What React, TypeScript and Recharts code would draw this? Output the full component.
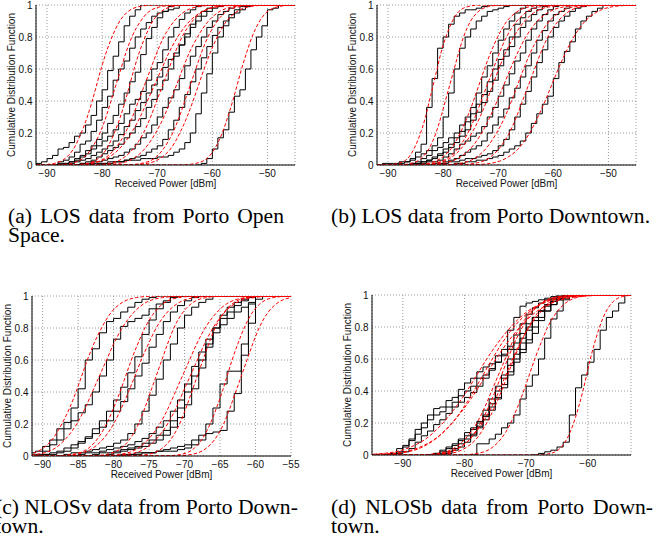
import { LineChart, Line, XAxis, YAxis, CartesianGrid } from 'recharts'

// cumulative levels at which each fitted curve's x position is listed
const fitLevels = [0.001, 0.01, 0.05, 0.1, 0.2, 0.3, 0.4, 0.5, 0.6, 0.7, 0.8, 0.9, 0.95, 0.99, 0.999]
const cdfTicks = [0, 0.2, 0.4, 0.6, 0.8, 1]

// (a) LOS, Porto open space — empirical CDF at 1 dB steps from each start value
const openStart = [-92, -88, -87, -88, -86, -84, -84, -80, -82, -62]
const openEcdf = [
  [0.01, 0.02, 0.04, 0.06, 0.1, 0.11, 0.14, 0.18, 0.2, 0.25, 0.31, 0.4, 0.47, 0.59, 0.68, 0.77, 0.87, 0.93, 0.97, 1],
  [0.02, 0.03, 0.05, 0.08, 0.13, 0.15, 0.21, 0.28, 0.36, 0.43, 0.53, 0.6, 0.65, 0.73, 0.8, 0.85, 0.89, 0.93, 0.95, 0.96, 0.97, 0.98, 1],
  [0.01, 0.02, 0.04, 0.06, 0.09, 0.12, 0.16, 0.2, 0.26, 0.31, 0.38, 0.45, 0.52, 0.58, 0.69, 0.79, 0.86, 0.92, 0.96, 0.99, 1],
  [0.01, 0.01, 0.02, 0.03, 0.05, 0.07, 0.1, 0.12, 0.15, 0.18, 0.22, 0.26, 0.32, 0.38, 0.41, 0.46, 0.53, 0.6, 0.64, 0.72, 0.8, 0.86, 0.91, 0.95, 0.97, 0.99, 1],
  [0.01, 0.02, 0.03, 0.04, 0.06, 0.08, 0.1, 0.12, 0.15, 0.19, 0.24, 0.28, 0.34, 0.39, 0.45, 0.5, 0.55, 0.61, 0.66, 0.7, 0.75, 0.8, 0.86, 0.9, 0.93, 0.96, 0.98, 0.99, 1],
  [0.01, 0.02, 0.03, 0.05, 0.07, 0.09, 0.11, 0.13, 0.17, 0.2, 0.24, 0.29, 0.36, 0.41, 0.47, 0.53, 0.6, 0.68, 0.75, 0.82, 0.88, 0.93, 0.96, 0.98, 1],
  [0.01, 0.01, 0.02, 0.02, 0.03, 0.04, 0.05, 0.06, 0.08, 0.1, 0.13, 0.17, 0.2, 0.25, 0.3, 0.36, 0.42, 0.47, 0.54, 0.62, 0.68, 0.74, 0.8, 0.86, 0.9, 0.94, 0.96, 0.98, 1],
  [0.01, 0.01, 0.02, 0.02, 0.03, 0.04, 0.05, 0.06, 0.08, 0.1, 0.12, 0.16, 0.22, 0.28, 0.36, 0.44, 0.52, 0.6, 0.67, 0.74, 0.81, 0.86, 0.9, 0.94, 0.97, 0.99, 1],
  [0.01, 0.01, 0.01, 0.02, 0.02, 0.02, 0.03, 0.03, 0.03, 0.04, 0.04, 0.04, 0.05, 0.05, 0.06, 0.08, 0.1, 0.14, 0.2, 0.32, 0.45, 0.57, 0.7, 0.8, 0.87, 0.92, 0.95, 0.97, 0.99, 1],
  [0.01, 0.04, 0.1, 0.17, 0.22, 0.33, 0.43, 0.47, 0.6, 0.72, 0.8, 0.87, 0.97, 0.98, 1],
]
const openFit = [
  [-91.2, -88.7, -86.4, -85.2, -83.8, -82.7, -81.8, -81.0, -80.2, -79.3, -78.2, -76.8, -75.6, -73.3, -70.8],
  [-88.3, -85.7, -83.2, -82.0, -80.4, -79.3, -78.4, -77.5, -76.6, -75.7, -74.6, -73.0, -71.8, -69.3, -66.7],
  [-85.2, -82.7, -80.4, -79.2, -77.8, -76.7, -75.8, -75.0, -74.2, -73.3, -72.2, -70.8, -69.6, -67.3, -64.8],
  [-85.3, -82.1, -79.2, -77.7, -75.8, -74.5, -73.4, -72.3, -71.2, -70.1, -68.8, -66.9, -65.4, -62.5, -59.3],
  [-86.0, -82.2, -78.7, -76.9, -74.7, -73.1, -71.8, -70.5, -69.2, -67.9, -66.3, -64.1, -62.3, -58.8, -55.0],
  [-82.0, -78.8, -75.9, -74.4, -72.5, -71.2, -70.1, -69.0, -67.9, -66.8, -65.5, -63.6, -62.1, -59.2, -56.0],
  [-80.4, -77.0, -73.9, -72.3, -70.3, -68.8, -67.6, -66.5, -65.4, -64.2, -62.7, -60.7, -59.1, -56.0, -52.6],
  [-75.7, -72.9, -70.2, -68.9, -67.2, -66.0, -65.0, -64.0, -63.0, -62.0, -60.8, -59.1, -57.8, -55.1, -52.3],
  [-74.9, -71.8, -69.1, -67.6, -65.9, -64.6, -63.5, -62.5, -61.5, -60.4, -59.1, -57.4, -55.9, -53.2, -50.1],
  [-65.4, -63.0, -60.7, -59.6, -58.2, -57.2, -56.3, -55.5, -54.7, -53.8, -52.8, -51.4, -50.3, -48.0, -45.6],
]

// (b) LOS, Porto downtown
const downLosStart = [-91, -88, -86, -85, -86, -84, -82, -80, -78]
const downLosEcdf = [
  [0.01, 0.01, 0.01, 0.02, 0.02, 0.04, 0.08, 0.13, 0.36, 0.54, 0.73, 0.8, 0.88, 0.93, 0.95, 0.97, 0.97, 0.98, 0.99, 1],
  [0.01, 0.02, 0.03, 0.05, 0.07, 0.09, 0.12, 0.17, 0.3, 0.45, 0.6, 0.73, 0.8, 0.85, 0.9, 0.93, 0.96, 0.97, 0.98, 0.99, 1],
  [0.01, 0.02, 0.04, 0.06, 0.09, 0.11, 0.14, 0.17, 0.2, 0.25, 0.3, 0.36, 0.45, 0.55, 0.62, 0.7, 0.78, 0.85, 0.9, 0.95, 0.98, 1],
  [0.01, 0.02, 0.03, 0.05, 0.07, 0.1, 0.13, 0.17, 0.21, 0.27, 0.32, 0.38, 0.44, 0.52, 0.6, 0.66, 0.72, 0.8, 0.88, 0.92, 0.96, 0.98, 1],
  [0.01, 0.01, 0.02, 0.03, 0.04, 0.06, 0.08, 0.11, 0.14, 0.18, 0.22, 0.28, 0.33, 0.39, 0.46, 0.53, 0.62, 0.68, 0.74, 0.8, 0.86, 0.9, 0.94, 0.97, 0.99, 1],
  [0.01, 0.02, 0.02, 0.03, 0.05, 0.07, 0.1, 0.13, 0.15, 0.18, 0.2, 0.24, 0.3, 0.36, 0.43, 0.5, 0.57, 0.65, 0.7, 0.78, 0.85, 0.9, 0.94, 0.97, 0.99, 1],
  [0.01, 0.01, 0.02, 0.03, 0.04, 0.06, 0.08, 0.1, 0.12, 0.15, 0.2, 0.25, 0.3, 0.35, 0.42, 0.48, 0.55, 0.62, 0.7, 0.78, 0.84, 0.9, 0.94, 0.96, 0.98, 1],
  [0.01, 0.02, 0.02, 0.03, 0.04, 0.04, 0.05, 0.06, 0.07, 0.09, 0.12, 0.16, 0.22, 0.3, 0.38, 0.46, 0.55, 0.64, 0.72, 0.8, 0.86, 0.9, 0.93, 0.96, 0.98, 0.99, 1],
  [0.01, 0.01, 0.02, 0.02, 0.03, 0.03, 0.04, 0.05, 0.06, 0.08, 0.1, 0.12, 0.15, 0.2, 0.26, 0.32, 0.38, 0.43, 0.54, 0.64, 0.71, 0.77, 0.85, 0.9, 0.93, 0.96, 0.98, 1],
]
const downLosFit = [
  [-90.1, -88.1, -86.2, -85.3, -84.1, -83.2, -82.5, -81.8, -81.1, -80.4, -79.5, -78.3, -77.4, -75.5, -73.5],
  [-88.1, -85.8, -83.7, -82.6, -81.3, -80.4, -79.6, -78.8, -78.0, -77.2, -76.3, -75.0, -73.9, -71.8, -69.5],
  [-85.9, -82.8, -80.1, -78.6, -76.9, -75.6, -74.5, -73.5, -72.5, -71.4, -70.1, -68.4, -66.9, -64.2, -61.1],
  [-85.0, -81.8, -78.9, -77.4, -75.5, -74.2, -73.1, -72.0, -70.9, -69.8, -68.5, -66.6, -65.1, -62.2, -59.0],
  [-84.9, -81.5, -78.4, -76.8, -74.8, -73.3, -72.1, -71.0, -69.9, -68.7, -67.2, -65.2, -63.6, -60.5, -57.1],
  [-83.8, -80.2, -76.9, -75.1, -73.0, -71.5, -70.2, -69.0, -67.8, -66.5, -65.0, -62.9, -61.1, -57.8, -54.2],
  [-80.4, -77.0, -73.9, -72.3, -70.3, -68.8, -67.6, -66.5, -65.4, -64.2, -62.7, -60.7, -59.1, -56.0, -52.6],
  [-77.5, -74.3, -71.4, -69.9, -68.0, -66.7, -65.6, -64.5, -63.4, -62.3, -61.0, -59.1, -57.6, -54.7, -51.5],
  [-75.1, -71.5, -68.2, -66.4, -64.3, -62.8, -61.5, -60.3, -59.1, -57.8, -56.3, -54.2, -52.4, -49.1, -45.5],
]

// (c) NLOSv, Porto downtown
const nlosvStart = [-92, -92, -90, -90, -87, -85, -83, -81, -79, -78]
const nlosvEcdf = [
  [0.02, 0.03, 0.06, 0.1, 0.17, 0.21, 0.3, 0.42, 0.6, 0.67, 0.77, 0.84, 0.86, 0.9, 0.93, 0.96, 0.98, 0.99, 1],
  [0.01, 0.01, 0.03, 0.07, 0.1, 0.17, 0.22, 0.27, 0.32, 0.4, 0.5, 0.6, 0.73, 0.81, 0.84, 0.86, 0.88, 0.92, 0.95, 0.97, 0.99, 1],
  [0.01, 0.01, 0.02, 0.03, 0.05, 0.08, 0.12, 0.17, 0.22, 0.28, 0.35, 0.43, 0.52, 0.62, 0.76, 0.85, 0.92, 0.96, 1],
  [0.01, 0.02, 0.03, 0.05, 0.07, 0.09, 0.11, 0.14, 0.18, 0.22, 0.28, 0.34, 0.42, 0.5, 0.58, 0.68, 0.76, 0.84, 0.9, 0.94, 0.97, 0.99, 1],
  [0.01, 0.02, 0.02, 0.03, 0.04, 0.05, 0.06, 0.08, 0.1, 0.14, 0.2, 0.28, 0.38, 0.48, 0.6, 0.7, 0.8, 0.88, 0.93, 0.96, 0.98, 1],
  [0.01, 0.02, 0.02, 0.03, 0.04, 0.05, 0.06, 0.07, 0.09, 0.11, 0.14, 0.18, 0.22, 0.28, 0.35, 0.45, 0.56, 0.65, 0.73, 0.8, 0.86, 0.9, 0.94, 0.97, 0.99, 1],
  [0.01, 0.02, 0.02, 0.03, 0.04, 0.05, 0.06, 0.08, 0.1, 0.13, 0.16, 0.22, 0.3, 0.4, 0.5, 0.6, 0.7, 0.77, 0.82, 0.86, 0.9, 0.93, 0.96, 0.98, 1],
  [0.01, 0.02, 0.03, 0.04, 0.05, 0.06, 0.08, 0.1, 0.13, 0.18, 0.24, 0.32, 0.42, 0.55, 0.68, 0.8, 0.88, 0.93, 0.96, 0.98, 1],
  [0.01, 0.01, 0.02, 0.02, 0.02, 0.03, 0.03, 0.03, 0.04, 0.05, 0.07, 0.1, 0.2, 0.3, 0.45, 0.53, 0.53, 0.7, 0.95, 1],
  [0.01, 0.01, 0.02, 0.02, 0.03, 0.04, 0.05, 0.06, 0.07, 0.1, 0.13, 0.14, 0.15, 0.16, 0.28, 0.39, 0.63, 0.83, 1],
]
const nlosvFit = [
  [-94.7, -92.2, -89.9, -88.7, -87.3, -86.2, -85.3, -84.5, -83.7, -82.8, -81.7, -80.3, -79.1, -76.8, -74.3],
  [-93.7, -90.9, -88.2, -86.9, -85.2, -84.0, -83.0, -82.0, -81.0, -80.0, -78.8, -77.1, -75.8, -73.1, -70.3],
  [-88.2, -85.8, -83.5, -82.4, -81.0, -80.0, -79.1, -78.3, -77.5, -76.6, -75.6, -74.2, -73.1, -70.8, -68.4],
  [-88.1, -85.4, -82.9, -81.6, -80.0, -78.9, -77.9, -77.0, -76.1, -75.1, -74.0, -72.4, -71.1, -68.6, -65.9],
  [-83.3, -81.0, -78.9, -77.8, -76.5, -75.6, -74.8, -74.0, -73.2, -72.4, -71.5, -70.2, -69.1, -67.0, -64.7],
  [-82.0, -79.2, -76.5, -75.2, -73.5, -72.3, -71.3, -70.3, -69.3, -68.3, -67.1, -65.4, -64.1, -61.4, -58.6],
  [-80.9, -78.1, -75.4, -74.1, -72.4, -71.2, -70.2, -69.2, -68.2, -67.2, -66.0, -64.3, -63.0, -60.3, -57.5],
  [-77.5, -75.2, -73.1, -72.0, -70.7, -69.8, -69.0, -68.2, -67.4, -66.6, -65.7, -64.4, -63.3, -61.2, -58.9],
  [-72.7, -70.5, -68.6, -67.6, -66.4, -65.5, -64.7, -64.0, -63.3, -62.5, -61.6, -60.4, -59.4, -57.5, -55.3],
  [-71.3, -69.0, -66.9, -65.8, -64.5, -63.6, -62.8, -62.0, -61.2, -60.4, -59.5, -58.2, -57.1, -55.0, -52.7],
]

// (d) NLOSb, Porto downtown
const nlosbStart = [-92, -92, -91, -85, -85, -84, -83, -78, -68]
const nlosbEcdf = [
  [0.01, 0.04, 0.06, 0.1, 0.16, 0.2, 0.25, 0.29, 0.3, 0.34, 0.36, 0.41, 0.45, 0.48, 0.52, 0.55, 0.57, 0.62, 0.66, 0.78, 0.86, 0.93, 0.95, 0.96, 0.97, 0.98, 0.99, 1],
  [0.01, 0.02, 0.05, 0.09, 0.13, 0.17, 0.22, 0.25, 0.27, 0.3, 0.33, 0.37, 0.4, 0.43, 0.48, 0.5, 0.54, 0.58, 0.63, 0.68, 0.75, 0.82, 0.88, 0.92, 0.95, 0.97, 0.98, 0.99, 1],
  [0.01, 0.02, 0.04, 0.08, 0.12, 0.15, 0.19, 0.22, 0.26, 0.3, 0.33, 0.36, 0.39, 0.43, 0.48, 0.53, 0.58, 0.62, 0.66, 0.7, 0.76, 0.82, 0.86, 0.9, 0.94, 0.96, 0.98, 0.99, 1],
  [0.01, 0.03, 0.05, 0.07, 0.1, 0.14, 0.17, 0.21, 0.28, 0.35, 0.43, 0.5, 0.6, 0.66, 0.73, 0.8, 0.86, 0.9, 0.94, 0.97, 0.99, 1],
  [0.01, 0.02, 0.04, 0.06, 0.09, 0.12, 0.16, 0.2, 0.25, 0.3, 0.36, 0.44, 0.52, 0.6, 0.64, 0.7, 0.76, 0.84, 0.9, 0.94, 0.97, 0.98, 1],
  [0.01, 0.02, 0.04, 0.07, 0.1, 0.13, 0.18, 0.24, 0.32, 0.4, 0.48, 0.56, 0.63, 0.7, 0.78, 0.84, 0.9, 0.93, 0.96, 0.98, 1],
  [0.01, 0.03, 0.05, 0.08, 0.12, 0.17, 0.22, 0.28, 0.35, 0.42, 0.5, 0.58, 0.66, 0.72, 0.8, 0.86, 0.9, 0.94, 0.97, 0.99, 1],
  [0.07, 0.07, 0.1, 0.13, 0.17, 0.2, 0.25, 0.35, 0.43, 0.5, 0.6, 0.73, 0.85, 0.9, 0.97, 0.99, 1],
  [0.01, 0.02, 0.03, 0.05, 0.08, 0.25, 0.42, 0.5, 0.58, 0.66, 0.78, 0.86, 0.9, 0.95, 1],
]
const nlosbFit = [
  [-98.1, -93.1, -88.7, -86.3, -83.5, -81.4, -79.6, -78.0, -76.4, -74.6, -72.5, -69.7, -67.3, -62.9, -57.9],
  [-95.5, -91.0, -86.8, -84.7, -82.0, -80.1, -78.5, -77.0, -75.5, -73.9, -72.0, -69.3, -67.2, -63.0, -58.5],
  [-96.6, -91.6, -87.2, -84.8, -82.0, -79.9, -78.1, -76.5, -74.9, -73.1, -71.0, -68.2, -65.8, -61.4, -56.4],
  [-87.5, -84.3, -81.4, -79.9, -78.0, -76.7, -75.6, -74.5, -73.4, -72.3, -71.0, -69.1, -67.6, -64.7, -61.5],
  [-87.2, -83.8, -80.7, -79.1, -77.1, -75.6, -74.4, -73.3, -72.2, -71.0, -69.5, -67.5, -65.9, -62.8, -59.4],
  [-86.4, -83.3, -80.6, -79.1, -77.4, -76.1, -75.0, -74.0, -73.0, -71.9, -70.6, -68.9, -67.4, -64.7, -61.6],
  [-85.4, -82.3, -79.6, -78.1, -76.4, -75.1, -74.0, -73.0, -72.0, -70.9, -69.6, -67.9, -66.4, -63.7, -60.6],
  [-80.6, -77.9, -75.4, -74.1, -72.5, -71.4, -70.4, -69.5, -68.6, -67.6, -66.5, -64.9, -63.6, -61.1, -58.4],
  [-67.9, -66.0, -64.3, -63.4, -62.3, -61.5, -60.8, -60.2, -59.6, -58.9, -58.1, -57.0, -56.1, -54.4, -52.5],
]

type Pt = { x: number; p: number }

function stepPoints(start: number, cdf: number[], hi: number): Pt[] {
  const pts: Pt[] = [{ x: start - 1, p: 0 }]
  cdf.forEach((p, i) => pts.push({ x: start + i, p }))
  pts.push({ x: hi + 1, p: 1 })
  return pts
}

function fitPoints(xs: number[], lo: number, hi: number): Pt[] {
  const pts: Pt[] = [{ x: lo - 2, p: 0 }]
  xs.forEach((x, i) => pts.push({ x, p: fitLevels[i] }))
  pts.push({ x: hi + 2, p: 1 })
  return pts
}

const dbm = (v: number) => (v < 0 ? `\u2212${Math.abs(v)}` : `${v}`)

const axisText = { fill: '#111', fontSize: 10 }

type PanelProps = {
  left: number
  top: number
  domain: [number, number]
  ticks: number[]
  starts: number[]
  ecdf: number[][]
  fits: number[][]
}

function CdfPanel({ left, top, domain, ticks, starts, ecdf, fits }: PanelProps) {
  const [lo, hi] = domain
  return (
    <div style={{ position: 'absolute', left, top }}>
      <LineChart width={312} height={198} margin={{ top: 5, right: 17, bottom: 0, left: 0 }}>
        <CartesianGrid stroke="#9a9a9a" strokeDasharray="1 2" />
        <XAxis
          type="number"
          dataKey="x"
          domain={domain}
          ticks={ticks}
          interval={0}
          allowDataOverflow
          height={33}
          tickLine={false}
          tickSize={2}
          tickMargin={2.5}
          stroke="#000"
          tick={axisText}
          tickFormatter={dbm}
          label={{ value: 'Received Power [dBm]', position: 'insideTop', offset: 14.5, ...axisText }}
        />
        <XAxis xAxisId="top" orientation="top" type="number" domain={domain} allowDataOverflow height={0} tick={false} tickLine={false} stroke="#000" />
        <YAxis
          type="number"
          domain={[0, 1]}
          ticks={cdfTicks}
          interval={0}
          allowDataOverflow
          width={36}
          tickLine={false}
          tickSize={2}
          tickMargin={1.5}
          stroke="#000"
          tick={axisText}
          label={{ value: 'Cumulative Distribution Function', angle: -90, position: 'center', dx: -7, ...axisText }}
        />
        <YAxis yAxisId="right" orientation="right" type="number" domain={[0, 1]} width={0} tick={false} tickLine={false} stroke="#000" />
        {starts.map((s, i) => (
          <Line
            key={`e${i}`}
            data={stepPoints(s, ecdf[i], hi)}
            dataKey="p"
            type="stepAfter"
            stroke="#000"
            strokeWidth={1}
            dot={false}
            isAnimationActive={false}
          />
        ))}
        {fits.map((xs, i) => (
          <Line
            key={`f${i}`}
            data={fitPoints(xs, lo, hi)}
            dataKey="p"
            type="monotone"
            stroke="#ff0000"
            strokeWidth={1}
            strokeDasharray="3.5 2"
            dot={false}
            isAnimationActive={false}
          />
        ))}
      </LineChart>
    </div>
  )
}

const serif = '"Liberation Serif", "Times New Roman", Times, serif'

// a caption paragraph; the first line is stretched to the column width
function Caption({ left, top, width, lines }: { left: number; top: number; width?: number; lines: string[] }) {
  return (
    <div
      style={{
        position: 'absolute',
        left,
        top,
        width,
        fontFamily: serif,
        fontSize: 21.6,
        lineHeight: '19px',
        whiteSpace: 'nowrap',
        textAlign: width ? 'justify' : 'left',
        textAlignLast: width ? 'justify' : 'auto',
        color: '#000',
      }}
    >
      {lines.map((l, i) => (
        <span key={i}>
          {i > 0 && <br />}
          {l}
        </span>
      ))}
    </div>
  )
}

export default function App() {
  return (
    <div
      style={{
        position: 'absolute',
        left: 0,
        top: 0,
        width: 658,
        height: 544,
        overflow: 'hidden',
        background: '#fff',
        fontFamily: '"Liberation Sans", Arial, Helvetica, sans-serif',
      }}
    >
      <CdfPanel left={-0.5} top={0} domain={[-92, -45]} ticks={[-90, -80, -70, -60, -50]} starts={openStart} ecdf={openEcdf} fits={openFit} />
      <CdfPanel left={341} top={0} domain={[-92, -45]} ticks={[-90, -80, -70, -60, -50]} starts={downLosStart} ecdf={downLosEcdf} fits={downLosFit} />
      <CdfPanel left={-4.5} top={290.5} domain={[-91.5, -55]} ticks={[-90, -85, -80, -75, -70, -65, -60, -55]} starts={nlosvStart} ecdf={nlosvEcdf} fits={nlosvFit} />
      <CdfPanel left={336} top={290} domain={[-95, -53]} ticks={[-90, -80, -70, -60]} starts={nlosbStart} ecdf={nlosbEcdf} fits={nlosbFit} />

      <Caption left={8} top={206.5} width={276} lines={['(a) LOS data from Porto Open', 'Space.']} />
      <Caption left={331} top={206.5} lines={['(b) LOS data from Porto Downtown.']} />
      <Caption left={-5} top={497.5} width={289} lines={['(c) NLOSv data from Porto Down-', 'town.']} />
      <Caption left={331} top={497.5} width={322} lines={['(d) NLOSb data from Porto Down-', 'town.']} />
    </div>
  )
}
